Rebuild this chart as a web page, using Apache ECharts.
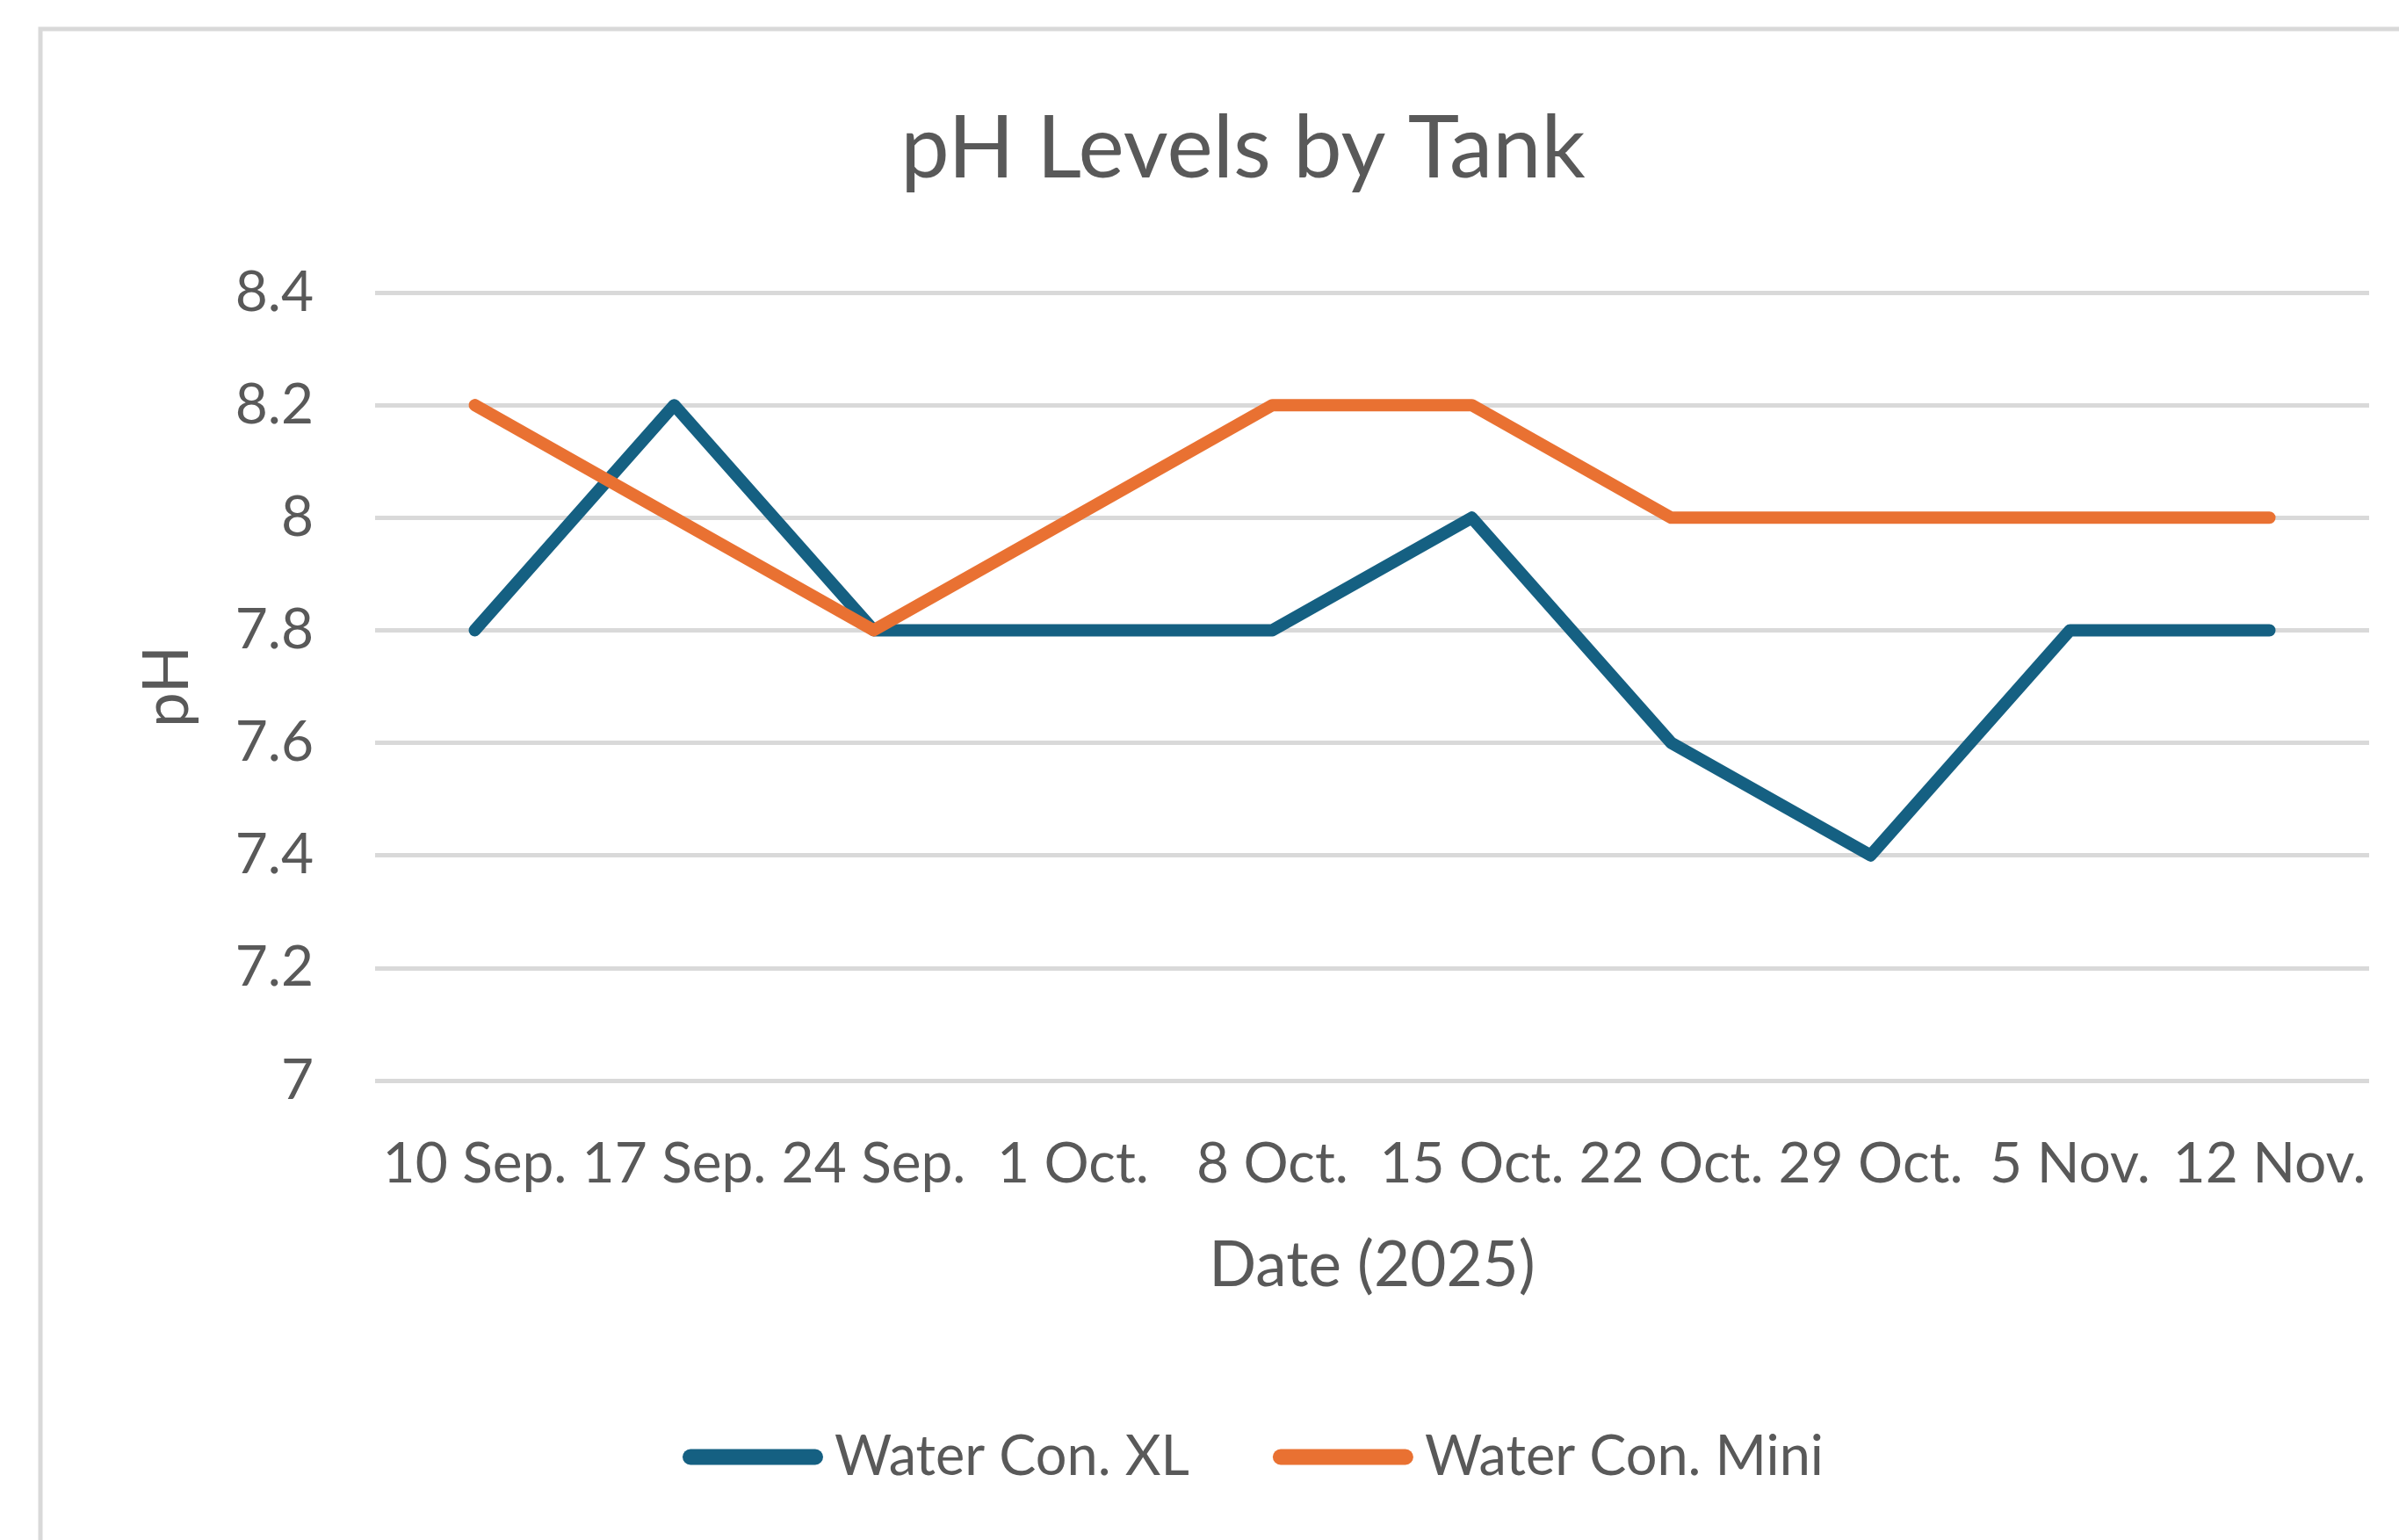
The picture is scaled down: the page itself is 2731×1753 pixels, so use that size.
<!DOCTYPE html>
<html>
<head>
<meta charset="utf-8">
<script src="https://cdn.jsdelivr.net/npm/echarts@6/dist/echarts.min.js"></script>
<style>
  html, body { margin: 0; padding: 0; background: #fff; }
  #chart { width: 2731px; height: 1753px; }
</style>
</head>
<body>
<div id="chart"></div>
<script>
const dates = ['10 Sep.', '17 Sep.', '24 Sep.', '1 Oct.', '8 Oct.', '15 Oct.', '22 Oct.', '29 Oct.', '5 Nov.', '12 Nov.'];
const waterConXL = [7.8, 8.2, 7.8, 7.8, 7.8, 8.0, 7.6, 7.4, 7.8, 7.8];
const waterConMini = [8.2, 8.0, 7.8, 8.0, 8.2, 8.2, 8.0, 8.0, 8.0, 8.0];

const textColor = '#595959';
const font = 'Lato';

const chart = echarts.init(document.getElementById('chart'));

// capsule shaped legend marker, same aspect as itemWidth/itemHeight
const capsule = 'path://M9,0 H151 A9,9 0 0 1 151,18 H9 A9,9 0 0 1 9,0 Z';

chart.setOption({
  animation: false,
  backgroundColor: '#fff',
  textStyle: { fontFamily: font, color: textColor },
  graphic: [
    {
      type: 'rect',
      shape: { x: 46, y: 33, width: 3000, height: 3000 },
      style: { fill: 'none', stroke: '#d9d9d9', lineWidth: 5 }
    }
  ],
  title: {
    text: 'pH Levels by Tank',
    left: 1410,
    textAlign: 'center',
    top: 116,
    textStyle: { fontFamily: font, fontSize: 99, fontWeight: 'normal', color: textColor }
  },
  legend: {
    left: 772,
    top: 1622,
    itemWidth: 160,
    itemHeight: 18,
    itemGap: 95,
    icon: capsule,
    textStyle: { fontFamily: font, fontSize: 63, color: textColor, padding: [0, 0, 0, 8] },
    data: ['Water Con. XL', 'Water Con. Mini']
  },
  grid: { left: 427, right: 34, top: 333, bottom: 523 },
  xAxis: {
    type: 'category',
    data: dates,
    boundaryGap: true,
    name: 'Date (2025)',
    nameLocation: 'middle',
    nameGap: 176,
    nameTextStyle: { fontFamily: font, fontSize: 71, color: textColor },
    axisLine: { show: false },
    axisTick: { show: false },
    axisLabel: { fontFamily: font, fontSize: 64, color: textColor, margin: 63, interval: 0 }
  },
  yAxis: {
    type: 'value',
    min: 7,
    max: 8.4,
    interval: 0.2,
    name: 'pH',
    nameLocation: 'middle',
    nameGap: 200,
    nameTextStyle: { fontFamily: font, fontSize: 71, color: textColor },
    axisLabel: {
      fontFamily: font, fontSize: 64, color: textColor, margin: 70,
      formatter: v => String(Math.round(v * 10) / 10)
    },
    splitLine: { lineStyle: { color: '#d9d9d9', width: 5 } }
  },
  series: [
    {
      name: 'Water Con. XL',
      type: 'line',
      data: waterConXL,
      showSymbol: false,
      symbol: 'none',
      color: '#156082',
      lineStyle: { color: '#156082', width: 14, cap: 'round', join: 'round' }
    },
    {
      name: 'Water Con. Mini',
      type: 'line',
      data: waterConMini,
      showSymbol: false,
      symbol: 'none',
      color: '#E97132',
      lineStyle: { color: '#E97132', width: 14, cap: 'round', join: 'round' }
    }
  ]
});
</script>
</body>
</html>
